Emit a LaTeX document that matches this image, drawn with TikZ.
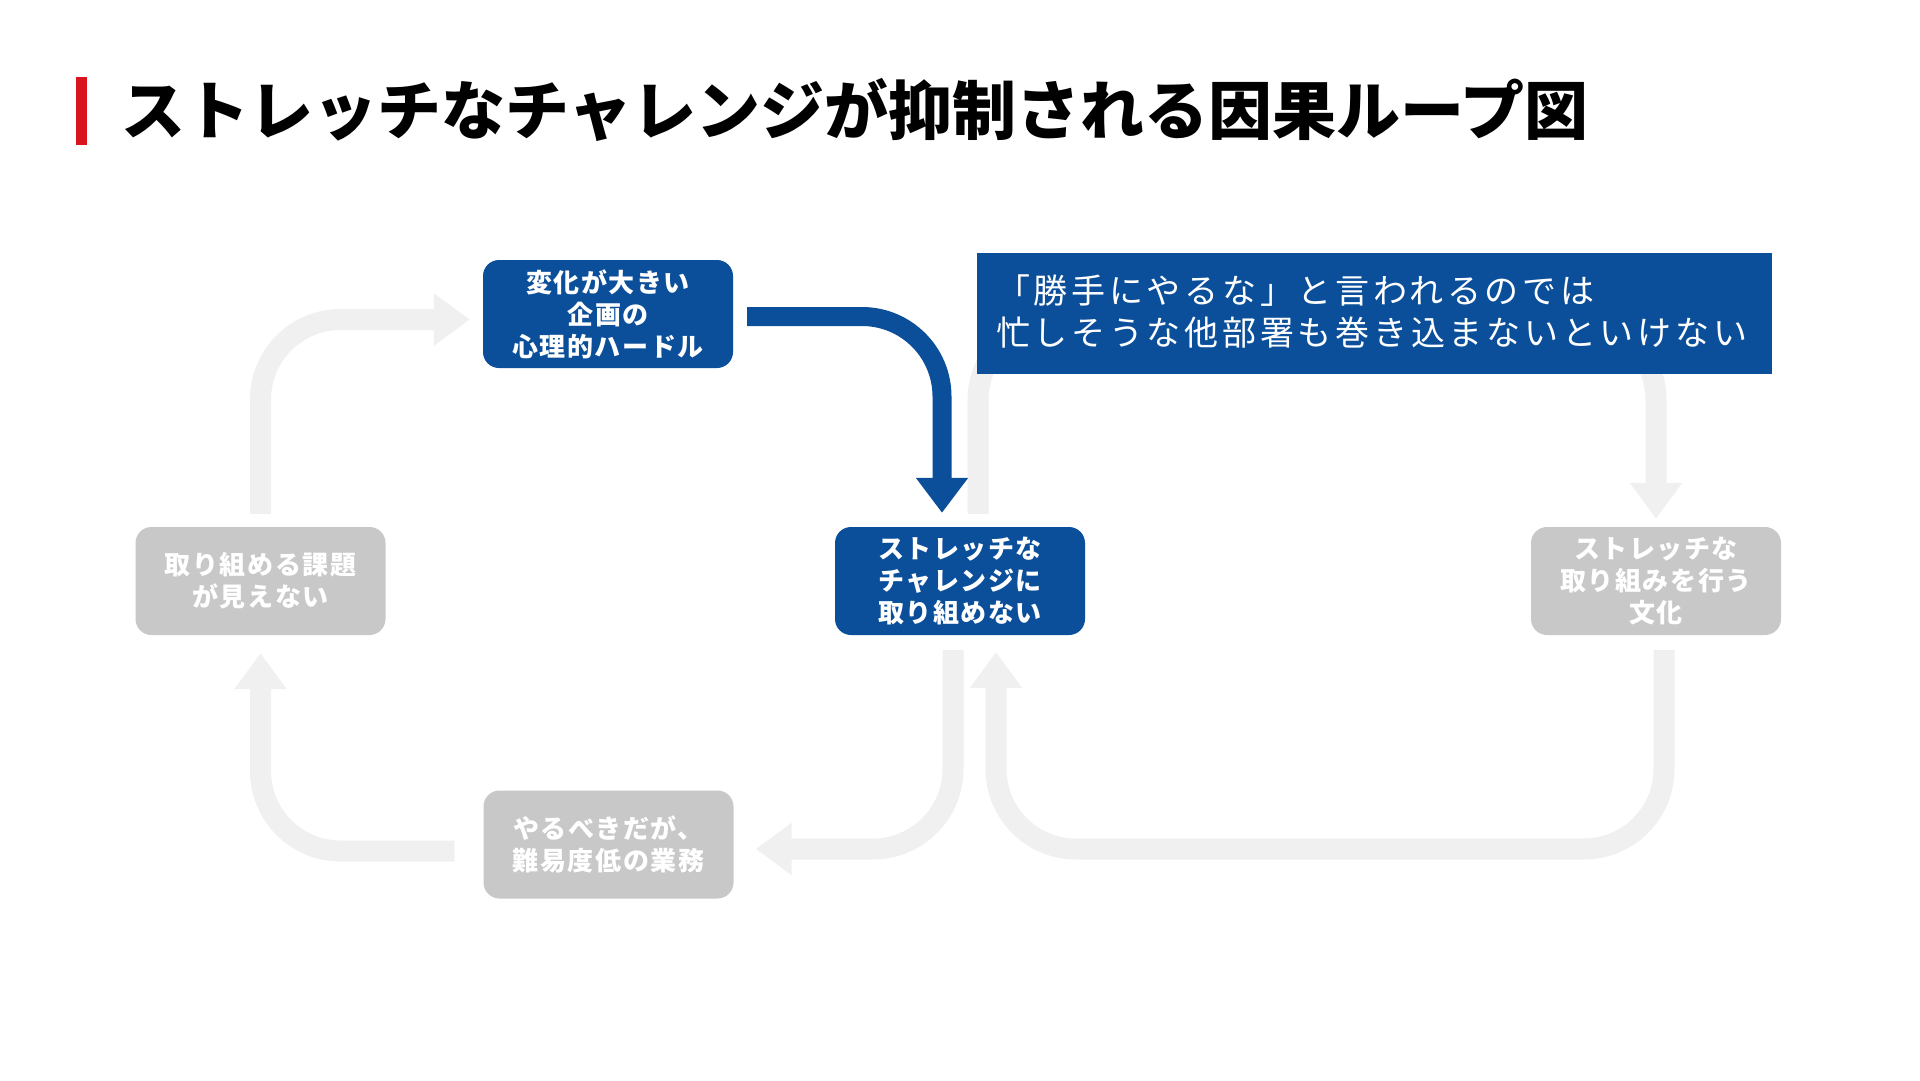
\documentclass[tikz,border=0pt]{standalone}
\usepackage{fontspec}
\setmainfont{Noto Sans CJK JP}
\usetikzlibrary{arrows.meta}
\definecolor{cblue}{HTML}{0B4F9B}
\definecolor{cgraybox}{HTML}{C8C8C8}
\definecolor{carrow}{HTML}{F0F0F0}
\definecolor{cred}{HTML}{D9141E}
\begin{document}
\begin{tikzpicture}[x=1pt,y=-1pt,
  box/.style={rounded corners=16pt, minimum width=250pt, minimum height=108pt, inner sep=0pt, align=center, text=white, font=\fontsize{26pt}{32pt}\selectfont\bfseries\addfontfeature{LetterSpace=6}},
  activebox/.style={box, fill=cblue},
  mutedbox/.style={box, fill=cgraybox},
  garrow/.style={draw=carrow, line width=21pt, rounded corners=80pt, -{Triangle[length=36pt,width=50pt]}},
  barrow/.style={draw=cblue, line width=19pt, rounded corners=80pt, -{Triangle[length=35pt,width=50pt]}},
  calloutbox/.style={fill=cblue, minimum height=121pt, minimum width=795pt, inner sep=0pt},
  callouttext/.style={text=white, inner sep=0pt, anchor=west, align=left, font=\fontsize{34pt}{42pt}\selectfont\addfontfeature{LetterSpace=11}}
]
\fill[white] (0,0) rectangle (1920,1080);
\useasboundingbox (0,0) rectangle (1920,1080);

% title
\fill[cred] (76,77) rectangle (87,145);
\node[anchor=base west, inner sep=0pt, font=\fontsize{64pt}{64pt}\selectfont\bfseries] (title) at (121,134) {ストレッチなチャレンジが抑制される因果ループ図};

% nodes
\node[activebox] (tp) at (608,314) {変化が大きい\\企画の\\心理的ハードル};
\node[activebox] (cc) at (960,581) {ストレッチな\\チャレンジに\\取り組めない};
\node[mutedbox] (rr) at (1656,581) {ストレッチな\\取り組みを行う\\文化};
\node[mutedbox] (ll) at (260.5,581) {取り組める課題\\が見えない};
\node[mutedbox] (bb) at (608.5,844.5) {やるべきだが、\\難易度低の業務};

% gray loop arrows
\coordinate (rbend) at (996,849);
\coordinate (rtbend) at (978,320);
\draw[garrow] ([yshift=13pt]ll.north) |- ([xshift=-13pt,yshift=-5.5pt]tp.west);
\draw[garrow] ([xshift=-29pt,yshift=-6.5pt]bb.west) -| ([yshift=-18pt]ll.south);
\draw[garrow] ([xshift=-7pt,yshift=-15pt]cc.south) |- ([xshift=22pt,yshift=-4.5pt]bb.east);
\draw[garrow] ([xshift=8pt,yshift=-15pt]rr.south) |- (rbend) -- ([xshift=36pt,yshift=-17pt]cc.south);
\draw[garrow] ([xshift=18pt,yshift=13pt]cc.north) -- (rtbend) -| ([yshift=8pt]rr.north);

% callout
\node[calloutbox] (note) at (1374.5,313.5) {};
\node[callouttext] (notetext) at ([xshift=19pt,yshift=2pt]note.west) {「勝手にやるな」と言われるのでは\\忙しそうな他部署も巻き込まないといけない};

% blue arrow
\draw[barrow] ([xshift=14pt,yshift=-2.5pt]tp.east) -| ([xshift=-18pt,yshift=14pt]cc.north);
\end{tikzpicture}
\end{document}
